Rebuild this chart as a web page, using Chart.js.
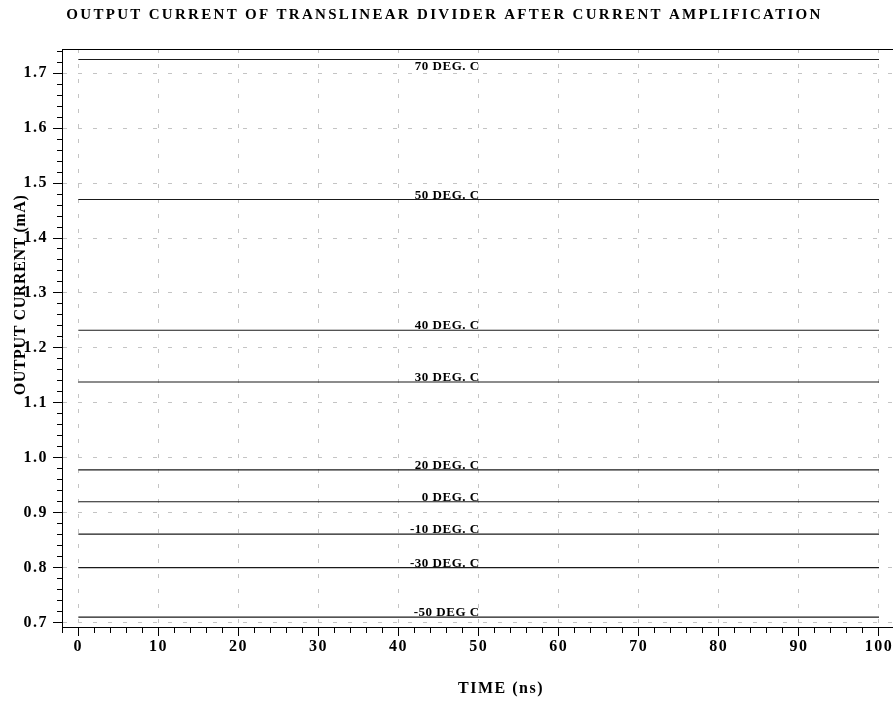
<!DOCTYPE html>
<html>
<head>
<meta charset="utf-8">
<style>
  html, body { margin: 0; padding: 0; background: #fff; }
  #wrap { width: 893px; height: 702px; }
</style>
<script src="https://cdn.jsdelivr.net/npm/chart.js@4.4.1/dist/chart.umd.min.js"></script>
</head>
<body>
<div id="wrap"><canvas id="chart" width="893" height="702"></canvas></div>
<script>
const TITLE = 'OUTPUT CURRENT OF TRANSLINEAR DIVIDER AFTER CURRENT AMPLIFICATION';
const X_TITLE = 'TIME (ns)';
const Y_TITLE = 'OUTPUT CURRENT (mA)';

// simulation span in ns, the output stays flat over it
const TIME = [0, 100];

// one run per temperature, output current in mA
const TEMP_LABELS = ['70 DEG. C', '50 DEG. C', '40 DEG. C', '30 DEG. C', '20 DEG. C',
                     '0 DEG. C', '-10 DEG. C', '-30 DEG. C', '-50 DEG C'];
const CURRENT_MA = [1.725, 1.470, 1.232, 1.138, 0.978, 0.920, 0.861, 0.800, 0.710];

// tick labels
const X_TICKS = [0, 10, 20, 30, 40, 50, 60, 70, 80, 90, 100];
const Y_TICKS = [0.7, 0.8, 0.9, 1.0, 1.1, 1.2, 1.3, 1.4, 1.5, 1.6, 1.7];

// the temperature tags end at this time value
const TAG_AT_NS = 50;

const X_MIN = -2.04, X_MAX = 101.75;
const Y_MIN = 0.692, Y_MAX = 1.744;

const SERIF = "'Liberation Serif', 'Times New Roman', serif";
const GRID = '#c4c4c4';
const LINE = '#1a1a1a';
const tickFont = { family: SERIF, size: 16, weight: 'bold' };

const datasets = CURRENT_MA.map((mA, i) => ({
  label: TEMP_LABELS[i],
  data: TIME.map(t => ({ x: t, y: mA })),
  borderColor: LINE,
  borderWidth: 1.1,
  pointRadius: 0,
  tension: 0,
  fill: false
}));

const textPlugin = {
  id: 'texts',
  beforeDraw(chart) {
    // the reference lettering is spaced out a little
    chart.ctx.letterSpacing = '1.5px';
  },
  afterDraw(chart) {
    const { ctx, chartArea, scales } = chart;
    const x = scales.x, y = scales.y;
    ctx.save();
    ctx.fillStyle = '#000';

    // chart title
    ctx.letterSpacing = '2.3px';
    ctx.font = `bold 15px ${SERIF}`;
    ctx.textAlign = 'center';
    ctx.textBaseline = 'middle';
    ctx.fillText(TITLE, chart.width / 2 - 2, 15);

    // axis titles
    ctx.letterSpacing = '1.5px';
    ctx.font = `bold 16px ${SERIF}`;
    ctx.fillText(X_TITLE, 501, 689);

    ctx.save();
    ctx.letterSpacing = '0.6px';
    ctx.translate(21, 295);
    ctx.rotate(-Math.PI / 2);
    ctx.fillText(Y_TITLE, 0, 0);
    ctx.restore();

    // temperature tags next to each line
    ctx.letterSpacing = '0.5px';
    ctx.font = `bold 13px ${SERIF}`;
    ctx.textAlign = 'right';
    const px = x.getPixelForValue(TAG_AT_NS) + 1;
    CURRENT_MA.forEach((mA, i) => {
      const py = y.getPixelForValue(mA);
      if (py - chartArea.top < 16) {
        ctx.textBaseline = 'top';
        ctx.fillText(TEMP_LABELS[i], px, py + 1);
      } else {
        ctx.textBaseline = 'alphabetic';
        ctx.fillText(TEMP_LABELS[i], px, py - 1);
      }
    });
    ctx.restore();
    ctx.letterSpacing = '0px';
  }
};

new Chart(document.getElementById('chart'), {
  type: 'line',
  data: { datasets },
  options: {
    responsive: false,
    animation: false,
    events: [],
    layout: { padding: { top: 49, left: 0, right: 0, bottom: 0 } },
    plugins: {
      legend: { display: false },
      title: { display: false },
      tooltip: { enabled: false }
    },
    scales: {
      x: {
        type: 'linear',
        position: 'bottom',
        weight: 1,
        min: X_MIN,
        max: X_MAX,
        afterBuildTicks: s => { s.ticks = X_TICKS.map(v => ({ value: v })); },
        afterFit: s => { s.height = 75; },
        ticks: {
          font: tickFont,
          color: '#000',
          padding: 1,
          maxRotation: 0,
          autoSkip: false,
          callback: v => String(v)
        },
        grid: { color: GRID, tickColor: '#000', tickLength: 9, lineWidth: 1 },
        border: { color: '#000', width: 1, dash: [4, 11] }
      },
      xMinor: {
        type: 'linear',
        position: 'bottom',
        weight: 0,
        min: X_MIN,
        max: X_MAX,
        afterFit: s => { s.height = 0; },
        ticks: { display: false, stepSize: 2, includeBounds: false },
        grid: { drawOnChartArea: false, tickColor: '#000', tickLength: 6 },
        border: { display: false }
      },
      xTop: {
        type: 'linear',
        position: 'top',
        min: X_MIN,
        max: X_MAX,
        afterFit: s => { s.height = 0; },
        ticks: { display: false },
        grid: { drawOnChartArea: false, drawTicks: false },
        border: { color: '#000', width: 1 }
      },
      y: {
        type: 'linear',
        position: 'left',
        weight: 1,
        min: Y_MIN,
        max: Y_MAX,
        afterBuildTicks: s => { s.ticks = Y_TICKS.map(v => ({ value: v })); },
        afterFit: s => { s.width = 62; },
        ticks: {
          font: tickFont,
          color: '#000',
          padding: 5,
          autoSkip: false,
          callback: v => v.toFixed(1)
        },
        grid: { color: GRID, tickColor: '#000', tickLength: 9, lineWidth: 1 },
        border: { color: '#000', width: 1, dash: [4, 11] }
      },
      yMinor: {
        type: 'linear',
        position: 'left',
        weight: 0,
        min: Y_MIN,
        max: Y_MAX,
        afterFit: s => { s.width = 0; },
        ticks: { display: false, stepSize: 0.02, includeBounds: false },
        grid: { drawOnChartArea: false, tickColor: '#000', tickLength: 5 },
        border: { display: false }
      }
    }
  },
  plugins: [textPlugin]
});
</script>
</body>
</html>
